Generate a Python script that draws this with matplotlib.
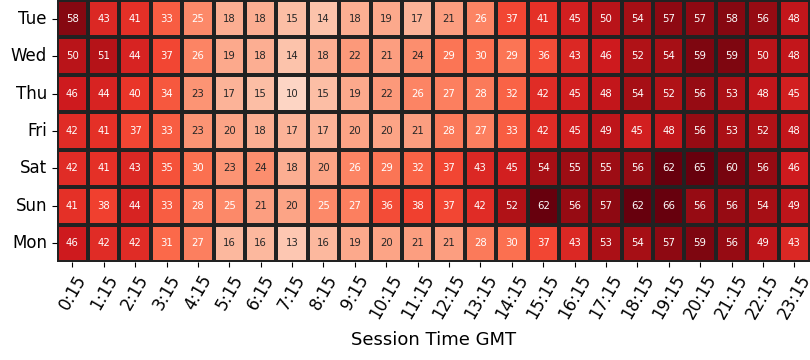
import matplotlib
matplotlib.use("Agg")
import matplotlib.pyplot as plt
import seaborn as sns
import numpy as np
import pandas as pd

days = ["Tue", "Wed", "Thu", "Fri", "Sat", "Sun", "Mon"]
times = [f"{h}:15" for h in range(24)]

tue = [58, 43, 41, 33, 25, 18, 18, 15, 14, 18, 19, 17, 21, 26, 37, 41, 45, 50, 54, 57, 57, 58, 56, 48]
wed = [50, 51, 44, 37, 26, 19, 18, 14, 18, 22, 21, 24, 29, 30, 29, 36, 43, 46, 52, 54, 59, 59, 50, 48]
thu = [46, 44, 40, 34, 23, 17, 15, 10, 15, 19, 22, 26, 27, 28, 32, 42, 45, 48, 54, 52, 56, 53, 48, 45]
fri = [42, 41, 37, 33, 23, 20, 18, 17, 17, 20, 20, 21, 28, 27, 33, 42, 45, 49, 45, 48, 56, 53, 52, 48]
sat = [42, 41, 43, 35, 30, 23, 24, 18, 20, 26, 29, 32, 37, 43, 45, 54, 55, 55, 56, 62, 65, 60, 56, 46]
sun = [41, 38, 44, 33, 28, 25, 21, 20, 25, 27, 36, 38, 37, 42, 52, 62, 56, 57, 62, 66, 56, 56, 54, 49]
mon = [46, 42, 42, 31, 27, 16, 16, 13, 16, 19, 20, 21, 21, 28, 30, 37, 43, 53, 54, 57, 59, 56, 49, 43]

df = pd.DataFrame([tue, wed, thu, fri, sat, sun, mon], index=days, columns=times)

fig = plt.figure(figsize=(8.1, 3.6), dpi=100)
ax = fig.add_axes([0.070, 0.272, 0.930, 0.728])
sns.heatmap(df, ax=ax, cmap="Reds", vmin=0, vmax=62, annot=True, fmt="d",
            annot_kws={"fontsize": 7.3}, linewidths=1.5, linecolor="#222222", cbar=False)
ax.set_xlabel("Session Time GMT", fontsize=13)
ax.xaxis.labelpad = 6
ax.set_ylabel("")
ax.tick_params(axis="x", labelsize=12, rotation=60)
ax.tick_params(axis="y", labelsize=12, rotation=0)
fig.savefig("out.png", dpi=100)
